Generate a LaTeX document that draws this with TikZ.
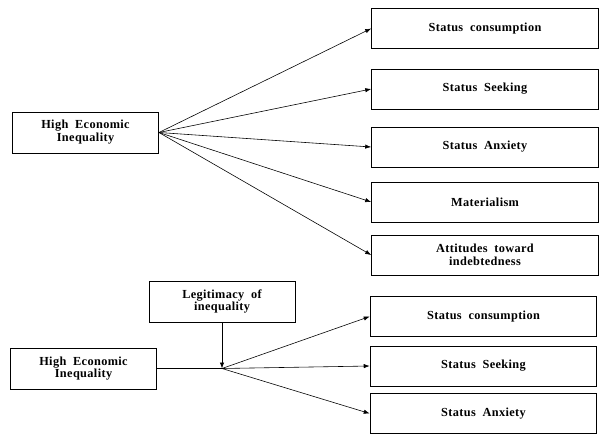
\documentclass[tikz,border=0pt]{standalone}
\usepackage{fontspec}
\setmainfont{Liberation Serif}
\newfontfamily\boxfamily[LetterSpace=3]{Liberation Serif}
\newcommand{\boxfont}{\boxfamily\bfseries\fontsize{10.5}{11}\selectfont\spaceskip=0.55em\relax}
\usepackage{tikz}
\usetikzlibrary{positioning,arrows.meta,calc}

\begin{document}
\begin{tikzpicture}[
  x=0.03cm, y=0.03cm,
  cause/.style={draw, line width=0.75pt, align=center, minimum width=4.38cm,
    minimum height=1.23cm, font=\boxfont},
  effect/.style={cause, minimum width=6.8cm, minimum height=1.2cm},
  arrow/.style={-{Latex[length=1.8mm,width=1.3mm]}, line width=0.5pt}
]
\useasboundingbox (0,0) rectangle (599,435);
% upper model
\node[cause] (hei) at (85.5,302.5) {High Economic\\Inequality};
\node[effect] (cons) at (485,406.5) {Status consumption};
\node[effect] (seek) at (485,346) {Status Seeking};
\node[effect] (anx) at (485,288) {Status Anxiety};
\node[effect] (mat) at (485,233) {Materialism};
\node[effect] (debt) at (485,180) {Attitudes toward\\indebtedness};
\foreach \b in {cons, seek, anx, mat, debt}
  \draw[arrow] (hei.east) -- (\b.west);
% lower model, with moderator
\node[cause] (hei2) at (83.5,66.5) {High Economic\\Inequality};
\node[cause] (legit) at (222,133.5) {Legitimacy of\\inequality};
\node[effect] (cons2) at (483.5,118.5) {Status consumption};
\node[effect] (seek2) at (483.5,69) {Status Seeking};
\node[effect] (anx2) at (483.5,21.5) {Status Anxiety};
\coordinate (mod) at (legit.south |- hei2.east);
\draw[line width=0.5pt] (hei2) -- (mod);
\draw[arrow] (legit) -- (mod);
\foreach \b in {cons2, seek2, anx2}
  \draw[arrow] (mod) -- (\b.west);
\end{tikzpicture}
\end{document}
